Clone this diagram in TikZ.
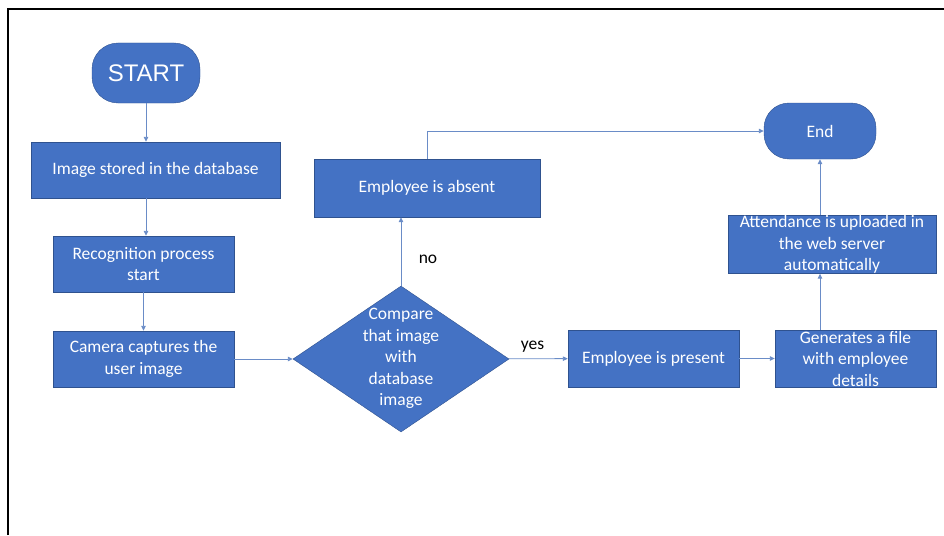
\documentclass[tikz,border=0pt]{standalone}
\usepackage{fontspec}
\setmainfont{Carlito}
\newfontfamily\startfont{Liberation Sans}
\usepackage{tikz}
\usetikzlibrary{shapes.geometric}
\usetikzlibrary{arrows.meta}
\definecolor{boxblue}{HTML}{4472C4}
\definecolor{boxline}{HTML}{2F528F}
\definecolor{flowblue}{HTML}{6A8CC7}

\begin{document}
\begin{tikzpicture}
[
    x = 1pt, y = -1pt,
    every node/.append style = {font = \fontsize{17.5}{21.5}\selectfont},
    procbox/.style = {draw = boxline, fill = boxblue, text = white, rectangle, inner sep = 0pt, align = center},
    terminal/.style = {procbox, rounded corners = 26pt},
    decision/.style = {draw = boxline, fill = boxblue, text = white, diamond, inner sep = 0pt, minimum width = 216pt, minimum height = 146pt},
    flow/.style = {draw = flowblue, line width = 0.9pt, -{Triangle[length = 5pt, width = 4.5pt]}},
    tag/.style = {text = black}]

\useasboundingbox (0,0) rectangle (944,535);
\draw [line width = 1.5pt] (8,535) -- (8,9) -- (944,9);

\node [terminal, minimum width = 108pt, minimum height = 60pt, font = \startfont\fontsize{24}{28}\selectfont] (start) at (146,73) {START};
\node [procbox, minimum width = 249pt, minimum height = 56pt] (stored) at (155.5,170) {Image stored in the database};
\node [procbox, minimum width = 181pt, minimum height = 56pt] (recog) at (143.5,264) {Recognition process\\start};
\node [procbox, minimum width = 181pt, minimum height = 56pt] (camera) at (143.5,359) {Camera captures the\\user image};
\node [decision] (compare) at (401,359) {\smash{\raisebox{-4pt}{\begin{tabular}{@{}c@{}}Compare\\that image\\with\\database\\image\end{tabular}}}};
\node [procbox, minimum width = 226pt, minimum height = 58pt] (absent) at (427,188) {Employee is absent};
\node [terminal, minimum width = 112pt, minimum height = 56pt, rounded corners = 25pt] (stop) at (820,131) {End};
\node [procbox, minimum width = 208pt, minimum height = 57pt] (upload) at (832,244.5) {Attendance is uploaded in\\the web server\\automatically};
\node [procbox, minimum width = 171pt, minimum height = 57pt] (present) at (653.5,358.5) {Employee is present};
\node [procbox, minimum width = 161pt, minimum height = 57pt] (report) at (855.5,358.5) {Generates a file\\with employee\\details};

\draw [flow] (start) -- (start |- stored.north);
\draw [flow] (start |- stored.south) -- (start |- recog.north);
\draw [flow] (recog) -- (camera);
\draw [flow] (camera) -- (compare);
\draw [flow] (compare) -- node [tag, right = 14pt, pos = 0.38] {no} (compare |- absent.south);
\draw [flow] (absent) |- (stop);
\draw [flow] (compare) -- node [tag, above = 3pt, pos = 0.4] {yes} (present);
\draw [flow] (present) -- (report);
\draw [flow] (stop.south |- report.north) -- (stop.south |- upload.south);
\draw [flow] (stop.south |- upload.north) -- (stop.south);

\end{tikzpicture}
\end{document}
